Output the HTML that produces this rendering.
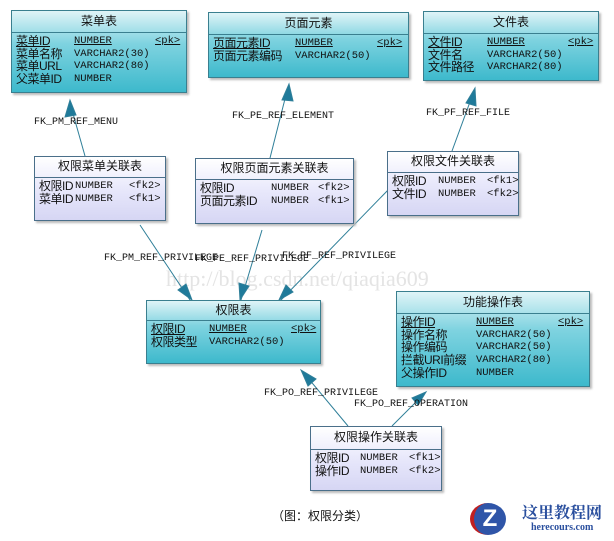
<!DOCTYPE html>
<html><head><meta charset="utf-8"><style>
body{margin:0;width:614px;height:541px;background:#fff;position:relative;overflow:hidden;font-family:"Liberation Mono","Noto Sans CJK SC",monospace;font-size:11px;color:#111}
.t{position:absolute;border:1px solid #3a7f8f;box-shadow:2px 2px 2px #bbb;box-sizing:border-box}
.c{background:linear-gradient(#dff4f7,#7fd3e0 40%,#3db9cc)}
.l{background:linear-gradient(#fff,#e8e8fb 50%,#d6d6f4);border-color:#4a6f8a}
.h{text-align:center;font-family:"Liberation Sans","Noto Sans CJK SC",sans-serif;font-size:12px;border-bottom:1px solid #3a7f8f;box-sizing:border-box}
.r{position:absolute;left:0;right:0;height:13px;font-size:10.5px;white-space:nowrap}
.r span{position:absolute;top:0;line-height:13px;height:13px}
.r span:first-child{font-family:"Liberation Sans","Noto Sans CJK SC",sans-serif;font-size:12px;letter-spacing:-0.5px}
.u{text-decoration:underline}
.lb{position:absolute;font-size:10px;white-space:pre}
</style></head><body>
<div style="position:absolute;left:166px;top:266px;font-family:'Liberation Serif',serif;font-size:22px;color:#e4e4e4;white-space:pre">http://blog.csdn.net/qiaqia609</div>
<svg width="614" height="541" style="position:absolute;left:0;top:0" >
<g stroke="#2f7f99" stroke-width="1" fill="#1f7a9a">
<line x1="85" y1="156" x2="70" y2="103"/><polygon points="70,100 65,117 76,115"/>
<line x1="270" y1="158" x2="288" y2="87"/><polygon points="289,84 282,100 293,101"/>
<line x1="452" y1="151" x2="474" y2="91"/><polygon points="475,88 466,103 476,106"/>
<line x1="140" y1="225" x2="190" y2="300"/><polygon points="192,300 178,290 186,284"/>
<line x1="262" y1="230" x2="241" y2="300"/><polygon points="240,300 239,283 249,286"/>
<line x1="390" y1="188" x2="281" y2="300"/><polygon points="279,300 286,285 293,292"/>
<line x1="348" y1="426" x2="303" y2="372"/><polygon points="301,370 316,379 308,386"/>
<line x1="392" y1="426" x2="424" y2="394"/><polygon points="426,392 412,398 418,405"/>
</g></svg>

<div class="t c" style="left:11px;top:10px;width:176px;height:83px"><div class="h" style="height:22px;line-height:20px">菜单表</div>
<div class="r" style="top:24px"><span class="u" style="left:4px">菜单ID</span><span class="u" style="left:62px">NUMBER</span><span class="u" style="left:143px">&lt;pk&gt;</span></div>
<div class="r" style="top:36.7px"><span style="left:4px">菜单名称</span><span style="left:62px">VARCHAR2(30)</span></div>
<div class="r" style="top:49.4px"><span style="left:4px">菜单URL</span><span style="left:62px">VARCHAR2(80)</span></div>
<div class="r" style="top:62.1px"><span style="left:4px">父菜单ID</span><span style="left:62px">NUMBER</span></div></div>

<div class="t c" style="left:208px;top:12px;width:201px;height:66px"><div class="h" style="height:22px;line-height:20px">页面元素</div>
<div class="r" style="top:24px"><span class="u" style="left:4px">页面元素ID</span><span class="u" style="left:86px">NUMBER</span><span class="u" style="left:168px">&lt;pk&gt;</span></div>
<div class="r" style="top:36.7px"><span style="left:4px">页面元素编码</span><span style="left:86px">VARCHAR2(50)</span></div></div>

<div class="t c" style="left:423px;top:11px;width:176px;height:70px"><div class="h" style="height:22px;line-height:20px">文件表</div>
<div class="r" style="top:24px"><span class="u" style="left:4px">文件ID</span><span class="u" style="left:63px">NUMBER</span><span class="u" style="left:144px">&lt;pk&gt;</span></div>
<div class="r" style="top:36.7px"><span style="left:4px">文件名</span><span style="left:63px">VARCHAR2(50)</span></div>
<div class="r" style="top:49.4px"><span style="left:4px">文件路径</span><span style="left:63px">VARCHAR2(80)</span></div></div>

<div class="t l" style="left:34px;top:156px;width:132px;height:65px"><div class="h" style="height:21px;line-height:19px;border-color:#4a6f8a">权限菜单关联表</div>
<div class="r" style="top:23px"><span style="left:4px">权限ID</span><span style="left:40px">NUMBER</span><span style="left:94px">&lt;fk2&gt;</span></div>
<div class="r" style="top:35.7px"><span style="left:4px">菜单ID</span><span style="left:40px">NUMBER</span><span style="left:94px">&lt;fk1&gt;</span></div></div>

<div class="t l" style="left:195px;top:158px;width:159px;height:66px"><div class="h" style="height:21px;line-height:19px;border-color:#4a6f8a">权限页面元素关联表</div>
<div class="r" style="top:23px"><span style="left:4px">权限ID</span><span style="left:75px">NUMBER</span><span style="left:122px">&lt;fk2&gt;</span></div>
<div class="r" style="top:35.7px"><span style="left:4px">页面元素ID</span><span style="left:75px">NUMBER</span><span style="left:122px">&lt;fk1&gt;</span></div></div>

<div class="t l" style="left:387px;top:151px;width:132px;height:65px"><div class="h" style="height:21px;line-height:19px;border-color:#4a6f8a">权限文件关联表</div>
<div class="r" style="top:23px"><span style="left:4px">权限ID</span><span style="left:50px">NUMBER</span><span style="left:99px">&lt;fk1&gt;</span></div>
<div class="r" style="top:35.7px"><span style="left:4px">文件ID</span><span style="left:50px">NUMBER</span><span style="left:99px">&lt;fk2&gt;</span></div></div>

<div class="t c" style="left:146px;top:300px;width:175px;height:64px"><div class="h" style="height:20px;line-height:18px">权限表</div>
<div class="r" style="top:22px"><span class="u" style="left:4px">权限ID</span><span class="u" style="left:62px">NUMBER</span><span class="u" style="left:144px">&lt;pk&gt;</span></div>
<div class="r" style="top:34.7px"><span style="left:4px">权限类型</span><span style="left:62px">VARCHAR2(50)</span></div></div>

<div class="t c" style="left:396px;top:291px;width:194px;height:96px"><div class="h" style="height:22px;line-height:20px">功能操作表</div>
<div class="r" style="top:24px"><span class="u" style="left:4px">操作ID</span><span class="u" style="left:79px">NUMBER</span><span class="u" style="left:161px">&lt;pk&gt;</span></div>
<div class="r" style="top:36.7px"><span style="left:4px">操作名称</span><span style="left:79px">VARCHAR2(50)</span></div>
<div class="r" style="top:49.4px"><span style="left:4px">操作编码</span><span style="left:79px">VARCHAR2(50)</span></div>
<div class="r" style="top:62.1px"><span style="left:4px">拦截URI前缀</span><span style="left:79px">VARCHAR2(80)</span></div>
<div class="r" style="top:74.8px"><span style="left:4px">父操作ID</span><span style="left:79px">NUMBER</span></div></div>

<div class="t l" style="left:310px;top:426px;width:132px;height:65px"><div class="h" style="height:23px;line-height:21px;border-color:#4a6f8a">权限操作关联表</div>
<div class="r" style="top:25px"><span style="left:4px">权限ID</span><span style="left:49px">NUMBER</span><span style="left:98px">&lt;fk1&gt;</span></div>
<div class="r" style="top:37.7px"><span style="left:4px">操作ID</span><span style="left:49px">NUMBER</span><span style="left:98px">&lt;fk2&gt;</span></div></div>

<div class="lb" style="left:34px;top:117px">FK_PM_REF_MENU</div>
<div class="lb" style="left:232px;top:111px">FK_PE_REF_ELEMENT</div>
<div class="lb" style="left:426px;top:108px">FK_PF_REF_FILE</div>
<div class="lb" style="left:104px;top:253px">FK_PM_REF_PRIVILEGE</div>
<div class="lb" style="left:195px;top:254px">FK_PE_REF_PRIVILEGE</div>
<div class="lb" style="left:282px;top:251px">FK_PF_REF_PRIVILEGE</div>
<div class="lb" style="left:264px;top:388px">FK_PO_REF_PRIVILEGE</div>
<div class="lb" style="left:354px;top:399px">FK_PO_REF_OPERATION</div>

<div style="position:absolute;left:272px;top:507px;font-family:'Liberation Sans','Noto Sans CJK SC',sans-serif;font-size:12px">（图：权限分类）</div>

<div style="position:absolute;left:470px;top:503px;width:32px;height:32px;border-radius:50%;background:#2f55a8;color:#fff;font:bold 24px 'Liberation Sans',sans-serif;text-align:center;line-height:32px;border-left:4px solid #c02020">Z</div>
<div style="position:absolute;left:522px;top:500px;font:bold 16px 'Liberation Serif','Noto Serif CJK SC',serif;color:#2a4f9e">这里教程网</div>
<div style="position:absolute;left:531px;top:522px;font:bold 10px 'Liberation Serif',serif;color:#2a4f9e">herecours.com</div>
</body></html>
